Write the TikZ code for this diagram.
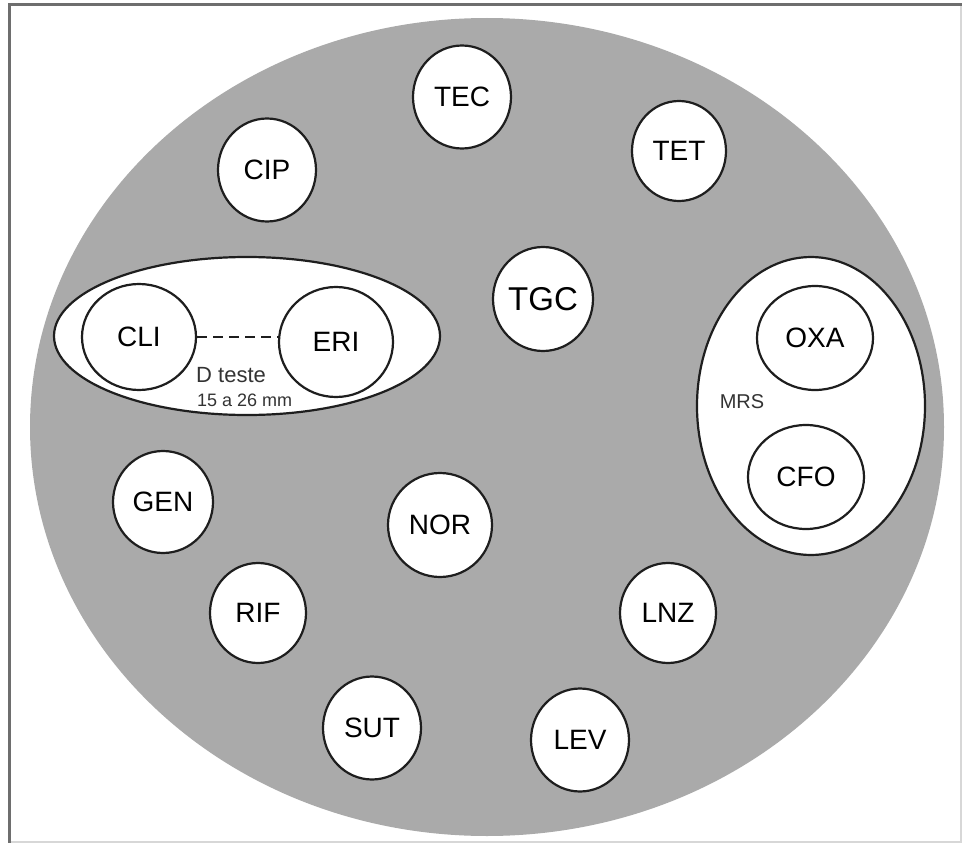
\documentclass[tikz,border=0pt]{standalone}
\usepackage{fontspec}
\setmainfont{Liberation Sans}
\usetikzlibrary{shapes.geometric}
\definecolor{dishgray}{RGB}{170,170,170}
\definecolor{framedark}{RGB}{110,110,110}
\definecolor{framelight}{RGB}{215,215,215}
\definecolor{inkline}{RGB}{30,30,30}
\tikzset{
  disk/.style={ellipse, draw=inkline, line width=2.2pt, fill=white, inner sep=0pt,
    minimum width=98pt, minimum height=103pt, font=\fontsize{28}{30}\selectfont},
  group/.style={ellipse, draw=inkline, line width=2.2pt, fill=white, inner sep=0pt},
  smalltext/.style={inner sep=0pt, font=\fontsize{20}{22}\selectfont, text=black!80},
  plate/.style={ellipse, fill=dishgray, inner sep=0pt}
}
\begin{document}
\begin{tikzpicture}[x=1pt,y=-1pt]
\fill[white] (0,0) rectangle (962,843);
\useasboundingbox (0,0) rectangle (962,843);
% frame
\draw[framelight, line width=1.5pt] (961,5) -- (961,842) -- (9,842);
\draw[framedark, line width=3pt] (9,843) -- (9,5) -- (962,5);
% dish
\node[plate, minimum width=914pt, minimum height=818pt] (dish) at (487,427) {};
% groups
\node[group, minimum width=386pt, minimum height=158pt] (dgroup) at (247,336) {};
\node[group, minimum width=228pt, minimum height=298pt] (mrsgroup) at (811,406) {};
% disks
\node[disk] (tec) at (462,97) {TEC};
\node[disk, minimum width=94pt, minimum height=100pt] (tet) at (679,151) {TET};
\node[disk] (cip) at (267,170) {CIP};
\node[disk, minimum width=100pt, minimum height=104pt, font=\fontsize{33}{35}\selectfont] (tgc) at (543,299) {TGC};
\node[disk, minimum width=114pt, minimum height=106pt] (cli) at (139,337) {CLI};
\node[disk, minimum width=114pt, minimum height=110pt] (eri) at (336,342) {ERI};
\node[disk, minimum width=116pt, minimum height=104pt] (oxa) at (815,338) {OXA};
\node[disk, minimum width=116pt, minimum height=104pt] (cfo) at (806,477) {CFO};
\node[disk, minimum width=100pt, minimum height=102pt] (gen) at (163,502) {GEN};
\node[disk, minimum width=104pt, minimum height=104pt] (nor) at (440,525) {NOR};
\node[disk, minimum width=96pt, minimum height=100pt] (rif) at (258,613) {RIF};
\node[disk, minimum width=96pt, minimum height=100pt] (lnz) at (668,613) {LNZ};
\node[disk] (sut) at (372,728) {SUT};
\node[disk] (lev) at (580,740) {LEV};
% labels
\draw[inkline, line width=2pt, dash pattern=on 10pt off 6pt] (cli.east) -- (eri.west |- cli.east);
\node[smalltext, anchor=west, font=\fontsize{22}{24}\selectfont] (dteste) at (196,375) {D teste};
\node[smalltext, anchor=west, font=\fontsize{18}{20}\selectfont] (drange) at (197,400) {15 a 26 mm};
\node[smalltext] (mrs) at (742,402) {MRS};
\end{tikzpicture}
\end{document}
